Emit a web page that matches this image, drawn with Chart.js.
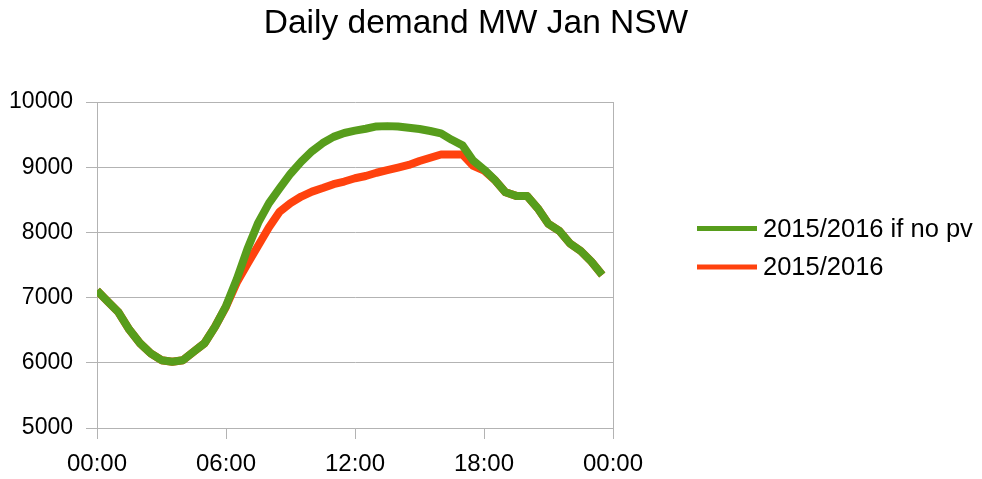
<!DOCTYPE html>
<html>
<head>
<meta charset="utf-8">
<script src="https://cdn.jsdelivr.net/npm/chart.js@4"></script>
<style>
  html, body { margin: 0; padding: 0; background: #fff; }
  #wrap { width: 982px; height: 479px; }
</style>
</head>
<body>
<div id="wrap"><canvas id="demandChart"></canvas></div>
<script>
// half hourly readings, January average day
let times = [
    '00:00', '00:30', '01:00', '01:30', '02:00', '02:30', '03:00', '03:30',
    '04:00', '04:30', '05:00', '05:30', '06:00', '06:30', '07:00', '07:30',
    '08:00', '08:30', '09:00', '09:30', '10:00', '10:30', '11:00', '11:30',
    '12:00', '12:30', '13:00', '13:30', '14:00', '14:30', '15:00', '15:30',
    '16:00', '16:30', '17:00', '17:30', '18:00', '18:30', '19:00', '19:30',
    '20:00', '20:30', '21:00', '21:30', '22:00', '22:30', '23:00', '23:30'
];

let noPv = [
    7110, 6940, 6775, 6510, 6300, 6145, 6040, 6015,
    6040, 6170, 6300, 6560, 6870, 7280, 7750, 8150,
    8450, 8680, 8900, 9085, 9245, 9370, 9465, 9525,
    9560, 9590, 9625, 9630, 9625, 9605, 9585, 9555,
    9520, 9420, 9335, 9100, 8965, 8805, 8615, 8560,
    8560, 8370, 8130, 8025, 7830, 7715, 7550, 7345
];

let actual = [
    7110, 6940, 6775, 6510, 6300, 6145, 6040, 6015,
    6040, 6170, 6300, 6560, 6860, 7230, 7520, 7800,
    8080, 8320, 8450, 8550, 8625, 8680, 8740, 8780,
    8830, 8865, 8915, 8955, 8995, 9035, 9095, 9145,
    9195, 9195, 9195, 9020, 8950, 8805, 8615, 8560,
    8560, 8370, 8130, 8025, 7830, 7715, 7550, 7345
];

let xTickLabels = ['00:00', '06:00', '12:00', '18:00', '00:00'];

function toHours(t) {
    let parts = t.split(':');
    return Number(parts[0]) + Number(parts[1]) / 60;
}

function points(values) {
    return values.map((v, i) => ({ x: toHours(times[i]), y: v }));
}

const gridColor = '#b3b3b3';
const font = 'Liberation Sans, Arial, sans-serif';

// the built in legend is capped at a sixth of the width here, so draw it ourselves
// in the space kept free by the y2 axis
const sideLegend = {
    id: 'sideLegend',
    afterDraw(chart) {
        const c = chart.ctx;
        const area = chart.chartArea;
        const left = area.right + 84;
        const rows = [228.5, 267];
        c.save();
        c.font = '25.5px ' + font;
        c.textBaseline = 'middle';
        c.textAlign = 'left';
        chart.data.datasets.forEach((ds, i) => {
            c.fillStyle = ds.borderColor;
            c.fillRect(left, rows[i] - 2.5, 60, 5);
            c.fillStyle = '#000';
            c.fillText(ds.label, left + 66, rows[i] + 1);
        });
        c.restore();
    }
};

var ctx = document.getElementById('demandChart').getContext('2d');
var demandChart = new Chart(ctx, {
    type: 'line',
    data: {
        datasets: [
            {
                label: '2015/2016 if no pv',
                data: points(noPv),
                borderColor: '#579d1c',
                backgroundColor: '#579d1c',
                borderWidth: 8,
                pointRadius: 0,
                tension: 0,
                borderJoinStyle: 'round'
            },
            {
                label: '2015/2016',
                data: points(actual),
                borderColor: '#ff420e',
                backgroundColor: '#ff420e',
                borderWidth: 8,
                pointRadius: 0,
                tension: 0,
                borderJoinStyle: 'round'
            }
        ]
    },
    plugins: [sideLegend],
    options: {
        responsive: true,
        maintainAspectRatio: false,
        animation: false,
        layout: {
            padding: { left: 0, right: 30, top: 0, bottom: 0 }
        },
        plugins: {
            tooltip: { enabled: false },
            legend: { display: false },
            title: {
                display: true,
                text: 'Daily demand MW Jan NSW',
                color: '#000',
                font: { family: font, size: 33.5, weight: 'normal', lineHeight: 1.2 },
                padding: { top: 4, bottom: 57.8 }
            }
        },
        scales: {
            x: {
                type: 'linear',
                min: 0,
                max: 24,
                afterFit: function(scale) { scale.height = 51; },
                afterBuildTicks: function(scale) {
                    scale.ticks = xTickLabels.map((t, i) => ({ value: i * 6 }));
                },
                ticks: {
                    color: '#000',
                    font: { family: font, size: 24 },
                    padding: 11,
                    maxRotation: 0,
                    callback: function(value, index) { return xTickLabels[index]; }
                },
                grid: {
                    drawOnChartArea: false,
                    drawTicks: true,
                    tickLength: 11,
                    color: gridColor
                },
                border: { display: true, color: gridColor }
            },
            y: {
                min: 5000,
                max: 10000,
                afterFit: function(scale) { scale.width = 97; },
                ticks: {
                    stepSize: 1000,
                    color: '#000',
                    font: { family: font, size: 23 },
                    padding: 13,
                    callback: function(value) { return String(value); }
                },
                grid: {
                    color: gridColor,
                    tickLength: 11
                },
                border: { display: true, color: gridColor }
            },
            y2: {
                position: 'right',
                min: 5000,
                max: 10000,
                afterFit: function(scale) { scale.width = 339; },
                ticks: { display: false },
                grid: { drawOnChartArea: false, drawTicks: false },
                border: { display: true, color: gridColor }
            }
        }
    }
});
</script>
</body>
</html>
